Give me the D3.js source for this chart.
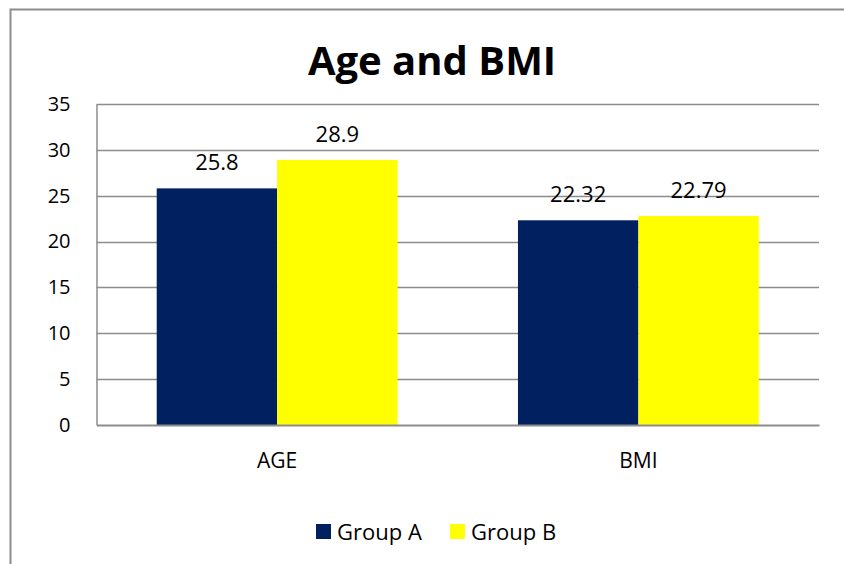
<!DOCTYPE html>
<html>
<head>
<meta charset="utf-8">
<script src="https://cdn.jsdelivr.net/npm/d3@7"></script>
<style>
  html, body { margin: 0; padding: 0; background: #fff; }
  svg { display: block; font-family: "Open Sans", "Noto Sans", sans-serif; }
</style>
</head>
<body>
<svg id="chart" width="844" height="564"></svg>
<script>
// Chart data
const categories = ["AGE", "BMI"];
const seriesNames = ["Group A", "Group B"];
const groupA = [25.8, 22.32];
const groupB = [28.9, 22.79];
const valueLabels = [["25.8", "22.32"], ["28.9", "22.79"]];
const yTicks = [0, 5, 10, 15, 20, 25, 30, 35];
const colors = ["#002060", "#FFFF00"];

const svg = d3.select("#chart");
const W = 844, H = 564;

svg.append("rect").attr("width", W).attr("height", H).attr("fill", "#fff");

// Outer frame (left and top edges)
svg.append("path")
  .attr("d", `M10.5,${H} L10.5,9.5 L${W},9.5`)
  .attr("fill", "none")
  .attr("stroke", "#8c8c8c")
  .attr("stroke-width", 2);

const plot = { left: 96.5, right: 819, top: 104, bottom: 425 };

const x0 = d3.scaleBand().domain(categories).range([plot.left, plot.right]).paddingInner(0).paddingOuter(0);
const x1 = d3.scaleBand().domain(seriesNames).range([0, x0.bandwidth()]).paddingInner(0).paddingOuter(0.5);
const y = d3.scaleLinear().domain([0, 35]).range([plot.bottom, plot.top]);

// Title
svg.append("text")
  .attr("x", 432).attr("y", 75)
  .attr("text-anchor", "middle")
  .attr("font-weight", "bold")
  .attr("font-size", 40)
  .attr("fill", "#000")
  .text("Age and BMI");

// Gridlines
svg.append("g").selectAll("line")
  .data(yTicks.filter(d => d > 0))
  .join("line")
  .attr("x1", plot.left).attr("x2", plot.right)
  .attr("y1", d => Math.round(y(d)) + 0.5).attr("y2", d => Math.round(y(d)) + 0.5)
  .attr("stroke", "#8c8c8c").attr("stroke-width", 1.5);

// Y axis
const yAxis = svg.append("g")
  .attr("transform", `translate(${plot.left},0)`)
  .call(d3.axisLeft(y).tickValues(yTicks).tickSize(0).tickPadding(26));
yAxis.select(".domain").attr("stroke", "#8c8c8c").attr("stroke-width", 1.5);
yAxis.selectAll("text").attr("font-size", 20).attr("fill", "#000").attr("font-family", "'Open Sans', sans-serif");

// Bars
const series = [groupA, groupB];
const barG = svg.append("g");
series.forEach((vals, si) => {
  barG.selectAll(null)
    .data(vals.map((v, i) => ({ cat: categories[i], v, label: valueLabels[si][i] })))
    .join("rect")
    .attr("x", d => x0(d.cat) + x1(seriesNames[si]))
    .attr("width", x1.bandwidth())
    .attr("y", d => y(d.v))
    .attr("height", d => y(0) - y(d.v))
    .attr("fill", colors[si]);
});

// X axis
const xAxis = svg.append("g")
  .attr("transform", `translate(0,${plot.bottom})`)
  .call(d3.axisBottom(x0).tickSize(0).tickPadding(28));
xAxis.select(".domain").attr("stroke", "#8c8c8c").attr("stroke-width", 2);
xAxis.selectAll("text").attr("font-size", 21).attr("fill", "#000").attr("font-family", "'Open Sans', sans-serif");

// Value labels
series.forEach((vals, si) => {
  svg.append("g").selectAll("text")
    .data(vals.map((v, i) => ({ cat: categories[i], v, label: valueLabels[si][i] })))
    .join("text")
    .attr("x", d => x0(d.cat) + x1(seriesNames[si]) + x1.bandwidth() / 2)
    .attr("y", d => y(d.v) - 18)
    .attr("text-anchor", "middle")
    .attr("font-size", 22)
    .attr("fill", "#000")
    .text(d => d.label);
});

// Legend
const legend = svg.append("g");
const legendItems = [
  { name: seriesNames[0], color: colors[0], x: 316 },
  { name: seriesNames[1], color: colors[1], x: 450 }
];
legendItems.forEach(it => {
  legend.append("rect").attr("x", it.x).attr("y", 524).attr("width", 15).attr("height", 15).attr("fill", it.color);
  legend.append("text").attr("x", it.x + 21).attr("y", 539.5)
    .attr("font-size", 22).attr("fill", "#000").text(it.name);
});
</script>
</body>
</html>
